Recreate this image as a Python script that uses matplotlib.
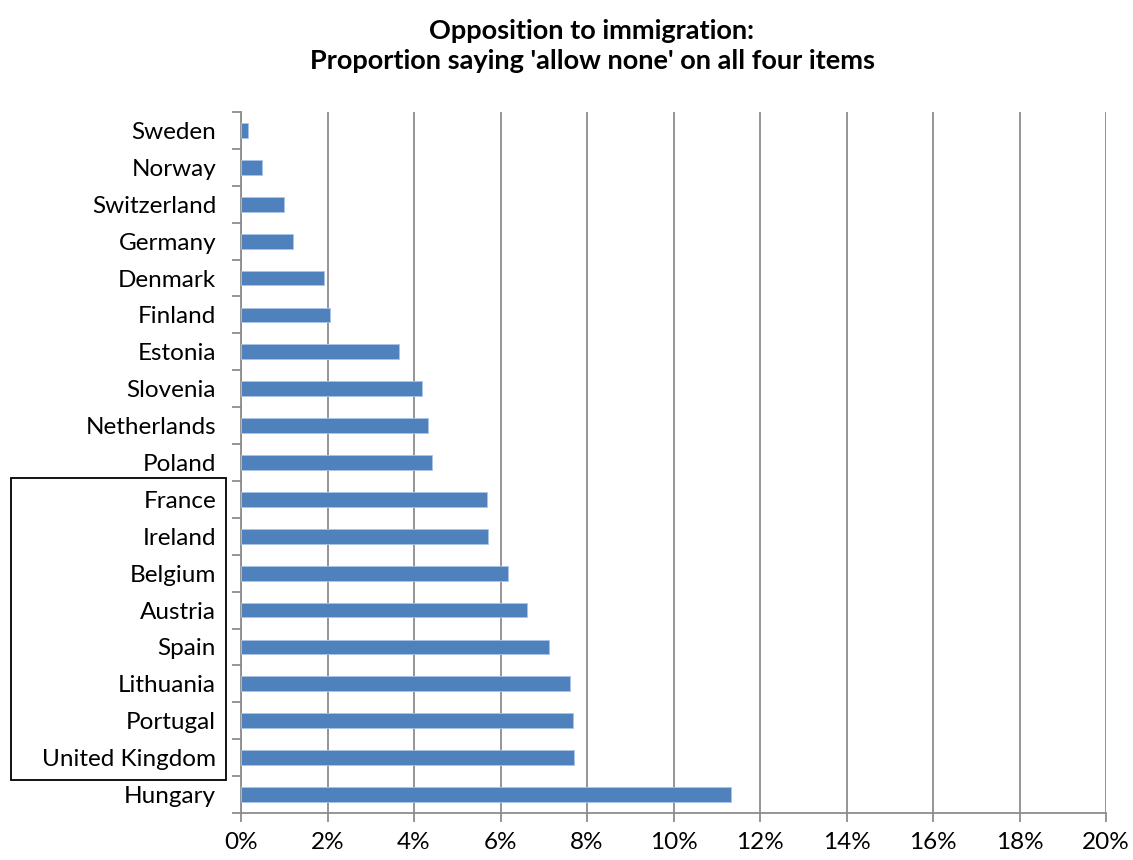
"""Opposition to immigration: share saying 'allow none' on all four items."""

import matplotlib

matplotlib.use("Agg")
import matplotlib.pyplot as plt  # noqa: E402
from matplotlib.patches import Rectangle  # noqa: E402
from matplotlib.ticker import FuncFormatter, MultipleLocator  # noqa: E402

countries = [
    "Sweden", "Norway", "Switzerland", "Germany", "Denmark", "Finland",
    "Estonia", "Slovenia", "Netherlands", "Poland", "France", "Ireland",
    "Belgium", "Austria", "Spain", "Lithuania", "Portugal", "United Kingdom",
    "Hungary",
]
allow_none = [
    0.16, 0.49, 1.00, 1.21, 1.93, 2.06, 3.65, 4.18, 4.33, 4.41, 5.68, 5.72,
    6.18, 6.61, 7.11, 7.61, 7.67, 7.70, 11.32,
]

plt.rcParams["font.family"] = ["Lato", "DejaVu Sans"]

W, H = 1133, 860
fig = plt.figure(figsize=(W / 100, H / 100), dpi=100)
ax = fig.add_axes([241 / W, 1 - 813 / H, (1106 - 241) / W, (813 - 112) / H])

pos = list(range(len(countries)))
ax.barh(pos, allow_none, height=0.4, color="#4F81BD", edgecolor="#A9C4E8",
        linewidth=0.6, zorder=3)
ax.set_ylim(len(countries) - 0.5, -0.5)
ax.set_yticks(pos)
ax.set_yticklabels(countries)
ax.set_yticks([p + 0.5 for p in range(-1, len(countries))], minor=True)

ax.set_xlim(0, 20)
ax.xaxis.set_major_locator(MultipleLocator(2))
ax.xaxis.set_major_formatter(FuncFormatter(lambda v, _: f"{v:.0f}%"))
ax.grid(axis="x", color="#8C8C8C", linewidth=1.3, zorder=0)

for side in ("top", "right"):
    ax.spines[side].set_visible(False)
for side in ("left", "bottom"):
    ax.spines[side].set_color("#8C8C8C")
    ax.spines[side].set_linewidth(1.3)

ax.tick_params(axis="y", which="major", length=0, pad=18, labelsize=17.5)
ax.tick_params(axis="y", which="minor", length=6.5, width=1.3, color="#8C8C8C")
ax.tick_params(axis="x", length=6.5, width=1.3, color="#8C8C8C", pad=7,
               labelsize=17.5)

fig.text(592 / W, 1 - 46 / H,
         "Opposition to immigration:\nProportion saying 'allow none' on all four items",
         ha="center", va="center", fontsize=19.5, fontweight="bold", linespacing=1.3)

fig.patches.append(Rectangle((11 / W, 1 - 780 / H), 215 / W, (780 - 478) / H,
                             transform=fig.transFigure, fill=False,
                             edgecolor="black", linewidth=1.3))

fig.savefig("out.png", dpi=100)
plt.close(fig)
